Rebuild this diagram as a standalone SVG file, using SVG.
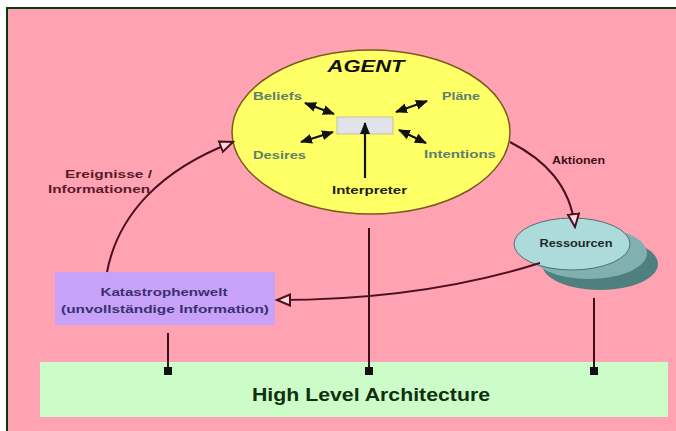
<svg xmlns="http://www.w3.org/2000/svg" width="676" height="431" viewBox="0 0 676 431">
<defs>
<style>
.t{font-family:"Liberation Sans",Arial,sans-serif;font-weight:bold}
.bdi{font-size:11.5px;fill:#5E7E6E}
.conn{fill:none;stroke:#4A1020;stroke-width:2}
.blk{fill:none;stroke:#111;stroke-width:2.2}
.drop{fill:none;stroke:#3A1018;stroke-width:2}
</style>
<marker id="open" markerUnits="userSpaceOnUse" markerWidth="16" markerHeight="14" viewBox="0 0 16 14" refX="14" refY="7" orient="auto">
<path d="M1,1.5 L14,7 L1,12.5 z" fill="#FFD6DC" stroke="#4A1020" stroke-width="2"/>
</marker>
<marker id="solid" markerUnits="userSpaceOnUse" markerWidth="12" markerHeight="12" viewBox="0 0 12 12" refX="11" refY="6" orient="auto-start-reverse">
<path d="M0,1 L12,6 L0,11 z" fill="#111"/>
</marker>
</defs>
<rect x="0" y="0" width="676" height="431" fill="#ffffff"/>
<rect x="7" y="8" width="669" height="423" fill="#FFA3B2"/>
<path d="M7,431 L7,8 L676,8" fill="none" stroke="#0A3A0A" stroke-width="2"/>

<g id="hla">
<rect x="40" y="362" width="628" height="55" fill="#CCFCC8"/>
<text class="t" x="371" y="401" font-size="19" fill="#103010" text-anchor="middle" textLength="238" lengthAdjust="spacingAndGlyphs">High Level Architecture</text>
</g>

<g id="agent">
<ellipse cx="371" cy="132" rx="139" ry="82" fill="#FFFF66" stroke="#7A5A20" stroke-width="1.5"/>
<text class="t" x="366" y="72" font-size="17" font-style="italic" fill="#111" text-anchor="middle" textLength="77" lengthAdjust="spacingAndGlyphs">AGENT</text>
<rect x="337" y="117" width="56" height="17" fill="#E2E2EA" stroke="#C4C4A0" stroke-width="1"/>
<text class="t bdi" x="253" y="100" textLength="49" lengthAdjust="spacingAndGlyphs">Beliefs</text>
<text class="t bdi" x="442" y="100" textLength="38" lengthAdjust="spacingAndGlyphs">Pläne</text>
<text class="t bdi" x="253" y="159" textLength="53" lengthAdjust="spacingAndGlyphs">Desires</text>
<text class="t bdi" x="424" y="158" textLength="72" lengthAdjust="spacingAndGlyphs">Intentions</text>
<text class="t" x="332" y="194" font-size="11.5" fill="#202010" textLength="75" lengthAdjust="spacingAndGlyphs">Interpreter</text>
</g>

<g id="katastrophenwelt">
<rect x="55" y="272" width="220" height="53" fill="#C8A2F8"/>
<text class="t" x="164" y="296" font-size="11.5" fill="#3A3070" text-anchor="middle" textLength="127" lengthAdjust="spacingAndGlyphs">Katastrophenwelt</text>
<text class="t" x="165" y="313" font-size="11.5" fill="#3A3070" text-anchor="middle" textLength="208" lengthAdjust="spacingAndGlyphs">(unvollständige Information)</text>
</g>

<g id="ressourcen">
<ellipse cx="600" cy="264" rx="58" ry="26" fill="#4F7F7F"/>
<ellipse cx="589" cy="253" rx="58" ry="26" fill="#80B0B0"/>
<ellipse cx="572" cy="244" rx="58" ry="26" fill="#ADDADA" stroke="#4F6F6F" stroke-width="1"/>
<text class="t" x="576" y="247" font-size="10.5" fill="#1A2A2A" text-anchor="middle" textLength="73" lengthAdjust="spacingAndGlyphs">Ressourcen</text>
</g>

<g id="connectors">
<line class="blk" x1="365" y1="178" x2="365" y2="123" marker-end="url(#solid)"/>
<line class="blk" x1="305" y1="103" x2="334" y2="114" marker-start="url(#solid)" marker-end="url(#solid)"/>
<line class="blk" x1="396" y1="112" x2="427" y2="101" marker-start="url(#solid)" marker-end="url(#solid)"/>
<line class="blk" x1="301" y1="142" x2="333" y2="132" marker-start="url(#solid)" marker-end="url(#solid)"/>
<line class="blk" x1="399" y1="130" x2="426" y2="143" marker-start="url(#solid)" marker-end="url(#solid)"/>

<path class="conn" d="M107,272 C118,215 160,170 233,142" marker-end="url(#open)"/>
<path class="conn" d="M510,142 C545,160 570,185 575,227" marker-end="url(#open)"/>
<path class="conn" d="M540,263 C470,285 380,300 277,300" marker-end="url(#open)"/>

<line class="drop" x1="168" y1="333" x2="168" y2="371"/>
<line class="drop" x1="369" y1="228" x2="369" y2="371"/>
<line class="drop" x1="594" y1="298" x2="594" y2="371"/>
<rect x="164" y="367" width="8" height="8" fill="#111"/>
<rect x="365" y="367" width="8" height="8" fill="#111"/>
<rect x="590" y="367" width="8" height="8" fill="#111"/>

<text class="t" x="152" y="178" font-size="11.5" fill="#5A1A2A" text-anchor="end" textLength="87" lengthAdjust="spacingAndGlyphs">Ereignisse /</text>
<text class="t" x="150" y="193" font-size="11.5" fill="#5A1A2A" text-anchor="end" textLength="102" lengthAdjust="spacingAndGlyphs">Informationen</text>
<text class="t" x="552" y="164" font-size="11" fill="#3A1018" textLength="53" lengthAdjust="spacingAndGlyphs">Aktionen</text>
</g>
</svg>
